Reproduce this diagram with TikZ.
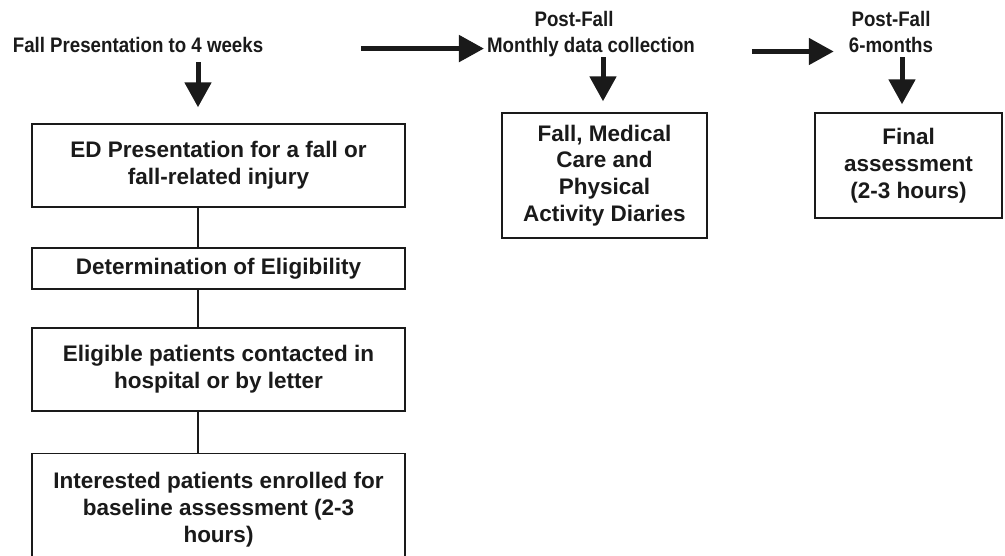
\documentclass[tikz,border=0pt]{standalone}
\usepackage{fontspec}
\setmainfont{Liberation Sans}
\newfontfamily\boxfont{Liberation Sans Bold}
\newfontfamily\narrowbold[FakeStretch=0.89]{Liberation Sans Bold}
\usetikzlibrary{arrows.meta}
\definecolor{ink}{HTML}{1A1A1A}
\begin{document}
\begin{tikzpicture}[x=1pt,y=-1pt,
  stagebox/.style={draw=ink, line width=1.4pt, align=center, inner sep=0pt,
    font=\boxfont\fontsize{22.5}{26.7}\selectfont, text=ink},
  toplabel/.style={anchor=base, inner sep=0pt, text=ink,
    font=\narrowbold\fontsize{21}{25}\selectfont},
  link/.style={draw=ink, line width=1.3pt},
  bigarrow/.style={draw=ink, line width=5pt, -{Triangle[width=26pt,length=25pt]}}]
\useasboundingbox (0,0) rectangle (1005,556);
\clip (0,0) rectangle (1005,556);
\fill[white] (0,0) rectangle (1005,556);

% top labels
\node[toplabel] (lblA) at (138,53) {Fall Presentation to 4 weeks};
\node[toplabel] (postA) at (574,27) {Post-Fall};
\node[toplabel] (mon) at (591,53) {Monthly data collection};
\node[toplabel] (postB) at (891,27) {Post-Fall};
\node[toplabel] (six) at (891,53) {6-months};

% left column boxes
\node[stagebox, minimum width=373pt, minimum height=83pt] (ed) at (218.5,165.5)
  {ED Presentation for a fall or\\fall-related injury};
\node[stagebox, minimum width=373pt, minimum height=41pt] (elig) at (218.5,268.5)
  {Determination of Eligibility};
\node[stagebox, minimum width=373pt, minimum height=83pt] (cont) at (218.5,369.5)
  {Eligible patients contacted in\\hospital or by letter};
\node[stagebox, minimum width=373pt, minimum height=112pt, anchor=north] (enr) at (218.5,453)
  {Interested patients enrolled for\\baseline assessment (2-3\\hours)};

% right boxes
\node[stagebox, minimum width=205pt, minimum height=125pt] (diary) at (604.5,175.5)
  {Fall, Medical\\Care and\\Physical\\Activity Diaries};
\node[stagebox, minimum width=187pt, minimum height=105pt] (final) at (908.5,165.5)
  {Final\\assessment\\(2-3 hours)};

% connectors in left column
\draw[link] ([xshift=-20.5pt]ed.south) -- ([xshift=-20.5pt]elig.north);
\draw[link] ([xshift=-20.5pt]elig.south) -- ([xshift=-20.5pt]cont.north);
\draw[link] ([xshift=-20.5pt]cont.south) -- ([xshift=-20.5pt]enr.north);

% thick arrows
\draw[bigarrow] ([xshift=-20.5pt,yshift=61pt]ed.north) -- ([xshift=-20.5pt,yshift=16pt]ed.north);
\draw[bigarrow] ([xshift=-1.5pt,yshift=55pt]diary.north) -- ([xshift=-1.5pt,yshift=11pt]diary.north);
\draw[bigarrow] ([xshift=-6.5pt,yshift=55pt]final.north) -- ([xshift=-6.5pt,yshift=8pt]final.north);
\draw[bigarrow] ([xshift=-126pt,yshift=-1pt]mon.west) -- ([xshift=-3pt,yshift=-1pt]mon.west);
\draw[bigarrow] ([xshift=-97pt,yshift=-6pt]six.west) -- ([xshift=-15pt,yshift=-6pt]six.west);
\end{tikzpicture}
\end{document}
